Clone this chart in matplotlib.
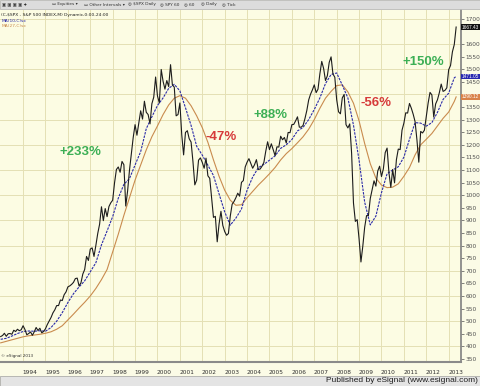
import numpy as np
import matplotlib
matplotlib.use("Agg")
import matplotlib.pyplot as plt
from matplotlib.patches import Rectangle

# monthly closes, Jan 1993 .. May 2013
price = [
    439, 443, 452, 440, 450, 451, 448, 464, 459, 468, 462, 466,
    482, 467, 446, 451, 457, 444, 458, 475, 463, 472, 454, 459,
    470, 487, 501, 515, 533, 545, 562, 562, 584, 582, 605, 616,
    636, 640, 646, 654, 669, 671, 640, 652, 687, 705, 757, 741,
    786, 791, 757, 801, 848, 885, 954, 899, 947, 915, 955, 970,
    980, 1049, 1102, 1112, 1091, 1134, 1121, 957, 1017, 1099, 1164, 1229,
    1280, 1238, 1286, 1335, 1302, 1373, 1329, 1320, 1283, 1363, 1389, 1469,
    1394, 1366, 1499, 1452, 1421, 1455, 1431, 1518, 1437, 1429, 1315, 1320,
    1366, 1240, 1160, 1249, 1256, 1224, 1211, 1134, 1041, 1060, 1139, 1148,
    1130, 1107, 1147, 1077, 1067, 990, 912, 916, 815, 886, 936, 880,
    856, 841, 848, 917, 964, 975, 990, 1008, 996, 1051, 1058, 1112,
    1131, 1145, 1126, 1107, 1121, 1141, 1102, 1104, 1115, 1130, 1174, 1212,
    1181, 1204, 1181, 1157, 1192, 1191, 1234, 1220, 1229, 1207, 1249, 1248,
    1280, 1281, 1295, 1311, 1270, 1270, 1277, 1304, 1336, 1378, 1401, 1418,
    1438, 1407, 1421, 1482, 1531, 1503, 1455, 1474, 1527, 1549, 1481, 1468,
    1379, 1331, 1323, 1386, 1400, 1280, 1267, 1283, 1166, 969, 896, 903,
    826, 735, 798, 873, 919, 919, 987, 1021, 1057, 1036, 1096, 1115,
    1074, 1104, 1169, 1187, 1089, 1031, 1102, 1049, 1141, 1183, 1181, 1258,
    1286, 1327, 1326, 1364, 1345, 1321, 1292, 1219, 1131, 1253, 1247, 1258,
    1312, 1366, 1408, 1398, 1310, 1362, 1379, 1407, 1441, 1412, 1416, 1426,
    1498, 1515, 1569, 1598, 1667.43,
]

# moving averages read quarterly (Jan, Apr, Jul, Oct), Jan 1993 .. Apr 2013, plus last bar
ma10 = [
    428, 432, 441, 451, 459, 461, 460, 462, 460, 475, 500, 534,
    574, 609, 636, 660, 696, 732, 803, 858, 915, 988, 1043, 1066,
    1120, 1173, 1264, 1311, 1356, 1386, 1424, 1440, 1414, 1347, 1277, 1194,
    1159, 1119, 1078, 1005, 934, 881, 909, 945, 1020, 1072, 1109, 1122,
    1139, 1156, 1186, 1200, 1221, 1255, 1269, 1300, 1340, 1386, 1443, 1479,
    1485, 1437, 1386, 1278, 1138, 972, 882, 917, 1010, 1085, 1100, 1113,
    1151, 1222, 1288, 1286, 1274, 1288, 1329, 1380, 1405, 1466, 1471.05,
]
ma27 = [
    414, 420, 426, 432, 438, 442, 445, 448, 452, 458, 468, 482,
    505, 528, 552, 575, 600, 630, 665, 705, 775, 845, 920, 990,
    1060, 1120, 1180, 1232, 1275, 1320, 1358, 1385, 1395, 1385, 1355, 1315,
    1268, 1210, 1140, 1075, 1020, 980, 960, 962, 990, 1015, 1040, 1062,
    1085, 1110, 1140, 1165, 1185, 1208, 1232, 1262, 1300, 1345, 1385, 1412,
    1435, 1438, 1410, 1365, 1295, 1205, 1125, 1068, 1040, 1030, 1032, 1045,
    1075, 1110, 1160, 1200, 1222, 1245, 1275, 1305, 1330, 1372, 1390.12,
]

years = list(range(1994, 2014))
ticks = list(range(350, 1701, 50))

# percent moves: text, x (year), y (index level), colour
moves = [
    ("+233%", 1996.55, 1172, "#3caf55"),
    ("-47%", 2002.84, 1231, "#d63a3a"),
    ("+88%", 2005.03, 1318, "#3caf55"),
    ("-56%", 2009.76, 1366, "#d63a3a"),
    ("+150%", 2011.86, 1529, "#3caf55"),
]

t_price = 1993 + np.arange(len(price)) / 12
t_ma = np.append(1993 + np.arange(len(ma10) - 1) * 0.25, t_price[-1])

W, H = 480, 386
fig = plt.figure(figsize=(W / 100, H / 100), dpi=100)
fig.patch.set_facecolor("#fbfbe6")

# toolbar and status bar
fig.patches.append(Rectangle((0, 1 - 9 / H), 1, 9 / H, transform=fig.transFigure,
                             facecolor="#dcdcdc", edgecolor="#b0b0b0", lw=0.5))
fig.patches.append(Rectangle((0, 0), 1, 10 / H, transform=fig.transFigure,
                             facecolor="#e4e4e4", edgecolor="#a0a0a0", lw=0.5))
bar = [("\u25a3 \u25a3 \u25a3 \u25a3 \u2726", 2), ("\u25ad Equities \u25be", 52),
       ("\u25ad Other Intervals \u25be", 84), ("\u25ce $SPX Daily", 128),
       ("\u25ce SPY 60", 160), ("\u25ce 60", 184), ("\u25ce Daily", 201), ("\u25ce Tick", 222)]
for s, x in bar:
    fig.text(x / W, 1 - 4.5 / H, s, fontsize=3.1, va="center", color="#303030")
fig.text(478 / W, 5 / H, "Published by eSignal (www.esignal.com)", fontsize=6,
         family="Liberation Sans", ha="right", va="center", color="#202020")

ax = fig.add_axes([0, 24 / H, 461 / W, 352 / H])
ax.set_facecolor("#fcfce3")
ax.set_xlim(1992.97, 2013.55)
ax.set_ylim(338, 1735)

for y in years:
    ax.axvline(y, color="#e4e0b4", lw=0.7, zorder=0)
for v in range(400, 1701, 100):
    ax.axhline(v, color="#e4e0b4", lw=0.7, zorder=0)

ax.plot(t_ma, ma27, color="#c98b4e", lw=0.8)
ax.plot(t_ma, ma10, color="#2a2aa8", lw=0.8, dashes=(2.2, 1))
ax.plot(t_price, price, color="#1c1c1c", lw=0.8)

for s, x, y, c in moves:
    ax.text(x, y, s, color=c, fontsize=9.5, fontweight="bold",
            family="Liberation Sans", ha="center", va="center")

# last-value boxes hide the tick labels they sit on
last = [(price[-1], "#111111"), (ma10[-1], "#2828b0"), (ma27[-1], "#d9824a")]
shown = [v for v in ticks if all(abs(v - lv) > 20 for lv, _ in last)]

ax.yaxis.tick_right()
ax.set_yticks(shown)
ax.set_yticklabels([str(v) for v in shown], fontsize=4.2, color="#303030")
ax.tick_params(axis="y", length=2, width=0.5, pad=1.5, colors="#505050")
ax.set_xticks([])
for side in ("top", "left"):
    ax.spines[side].set_visible(False)
ax.spines["right"].set_color("#808080")
ax.spines["right"].set_linewidth(1.2)
ax.spines["bottom"].set_color("#8a8a8a")
ax.spines["bottom"].set_linewidth(1.5)

for y in years:
    ax.text(y - 0.02, -0.03, str(y), transform=ax.get_xaxis_transform(),
            fontsize=4.2, color="#303030", ha="left", va="center")

for val, fc in last:
    ax.annotate("%.2f" % val, xy=(1.0, val), xycoords=("axes fraction", "data"),
                xytext=(0.6, 0), textcoords="offset points", fontsize=3.4,
                family="Liberation Sans", color="white", va="center", ha="left",
                annotation_clip=False,
                bbox=dict(boxstyle="square,pad=0.1", fc=fc, ec="none"))

# header lines
ax.text(0.003, 0.985, "(C,$SPX - S&P 500 INDEX,M) Dynamic,0:00-24:00", transform=ax.transAxes,
        fontsize=3.2, color="#202020", va="center")
ax.text(0.003, 0.970, "MA(10,C)sx", transform=ax.transAxes, fontsize=3.2,
        color="#2a2aa8", va="center")
ax.text(0.003, 0.955, "MA(27,C)sx", transform=ax.transAxes, fontsize=3.2,
        color="#c98b4e", va="center")
ax.text(0.003, 0.012, "\u00a9 eSignal 2013", transform=ax.transAxes, fontsize=3.0,
        color="#303030", va="bottom")

fig.savefig("out.png", dpi=100, facecolor=fig.get_facecolor())
